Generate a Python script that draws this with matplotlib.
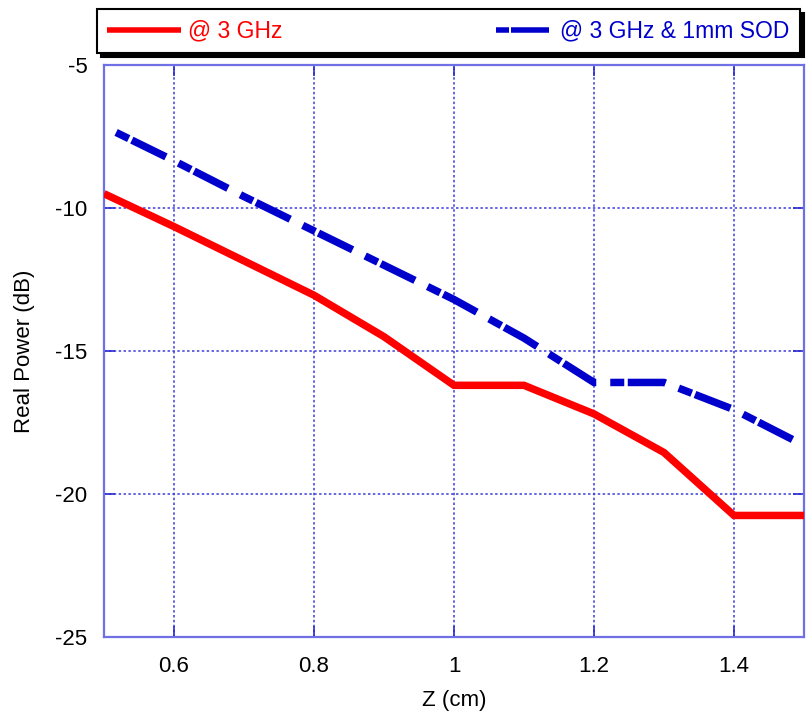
import matplotlib
matplotlib.use("Agg")
import matplotlib.pyplot as plt

# ---- data ----
z_cm = [0.5, 0.6, 0.7, 0.8, 0.9, 1.0, 1.1, 1.2, 1.3, 1.4, 1.5]
power_3ghz = [-9.5, -10.65, -11.85, -13.05, -14.5, -16.2, -16.2, -17.2, -18.55, -20.75, -20.75]
power_3ghz_sod = [-7.15, -8.35, -9.6, -10.8, -12.0, -13.2, -14.55, -16.1, -16.1, -17.05, -18.3]
label_red = "@ 3 GHz"
label_blue = "@ 3 GHz & 1mm SOD"
x_ticks = [0.6, 0.8, 1.0, 1.2, 1.4]
x_tick_labels = ["0.6", "0.8", "1", "1.2", "1.4"]
y_ticks = [-25, -20, -15, -10, -5]
y_tick_labels = ["-25", "-20", "-15", "-10", "-5"]

plt.rcParams['font.family'] = ['Liberation Sans', 'DejaVu Sans']

W, H = 806, 713
fig = plt.figure(figsize=(W / 100, H / 100), dpi=100)
ax = fig.add_axes([104 / W, 1 - 637 / H, 700 / W, 572 / H])

px = 72 / 100.0  # points per pixel

ax.plot(z_cm, power_3ghz, color='#ff0000', lw=7.5 * px, solid_joinstyle='miter',
        solid_capstyle='butt', label=label_red, zorder=3)
blue, = ax.plot(z_cm, power_3ghz_sod, color='#0000cc', lw=7.5 * px,
                dash_capstyle='butt', dash_joinstyle='miter', label=label_blue, zorder=3)
# dash pattern (units of linewidth): short, small gap, long, gap
blue.set_linestyle((56 / 7.5, (14 / 7.5, 3.5 / 7.5, 38 / 7.5, 14 / 7.5)))

ax.set_xlim(0.5, 1.5)
ax.set_ylim(-25, -5)
ax.set_xticks(x_ticks)
ax.set_xticklabels(x_tick_labels)
ax.set_yticks(y_ticks)
ax.set_yticklabels(y_tick_labels)

ax.grid(True, color='#3c3cdc', lw=1.1, linestyle=(0, (1.6, 1.6)), zorder=1)
for s in ax.spines.values():
    s.set_color('#7070e6')
    s.set_linewidth(1.6)

ax.tick_params(axis='both', which='major', direction='in', length=8,
               width=1.2, color='#2a2ad0', labelsize=16, labelcolor='#000000',
               top=True, right=True)
ax.tick_params(axis='y', pad=12)
ax.tick_params(axis='x', pad=14)

ax.set_xlabel("Z (cm)", fontsize=16, color='#000000')
ax.set_ylabel("Real Power (dB)", fontsize=16, color='#000000')
ax.xaxis.set_label_coords(0.5, -0.092)
ax.yaxis.set_label_coords(-0.098, 0.5)

leg = ax.legend(loc='lower left', ncol=2, mode='expand',
                bbox_to_anchor=(97 / W, 1 - 53 / H, 703 / W, 43 / H),
                bbox_transform=fig.transFigure, borderaxespad=0,
                fontsize=16.5, handlelength=3.2, handletextpad=0.3,
                borderpad=0.45, fancybox=False, framealpha=1,
                edgecolor='black',
                shadow={'color': 'black', 'alpha': 1, 'ox': 4 * px, 'oy': -4 * px})
leg.get_frame().set_linewidth(1.5)
for t, c in zip(leg.get_texts(), ['#ff0000', '#0000cc']):
    t.set_color(c)
hl = leg.get_lines()
hl[0].set_linewidth(5.5 * px)
hl[1].set_linewidth(5.5 * px)
hl[1].set_linestyle((57 / 5.5, (13 / 5.5, 2 / 5.5, 38 / 5.5, 20 / 5.5)))

fig.savefig("out.png", dpi=100)
